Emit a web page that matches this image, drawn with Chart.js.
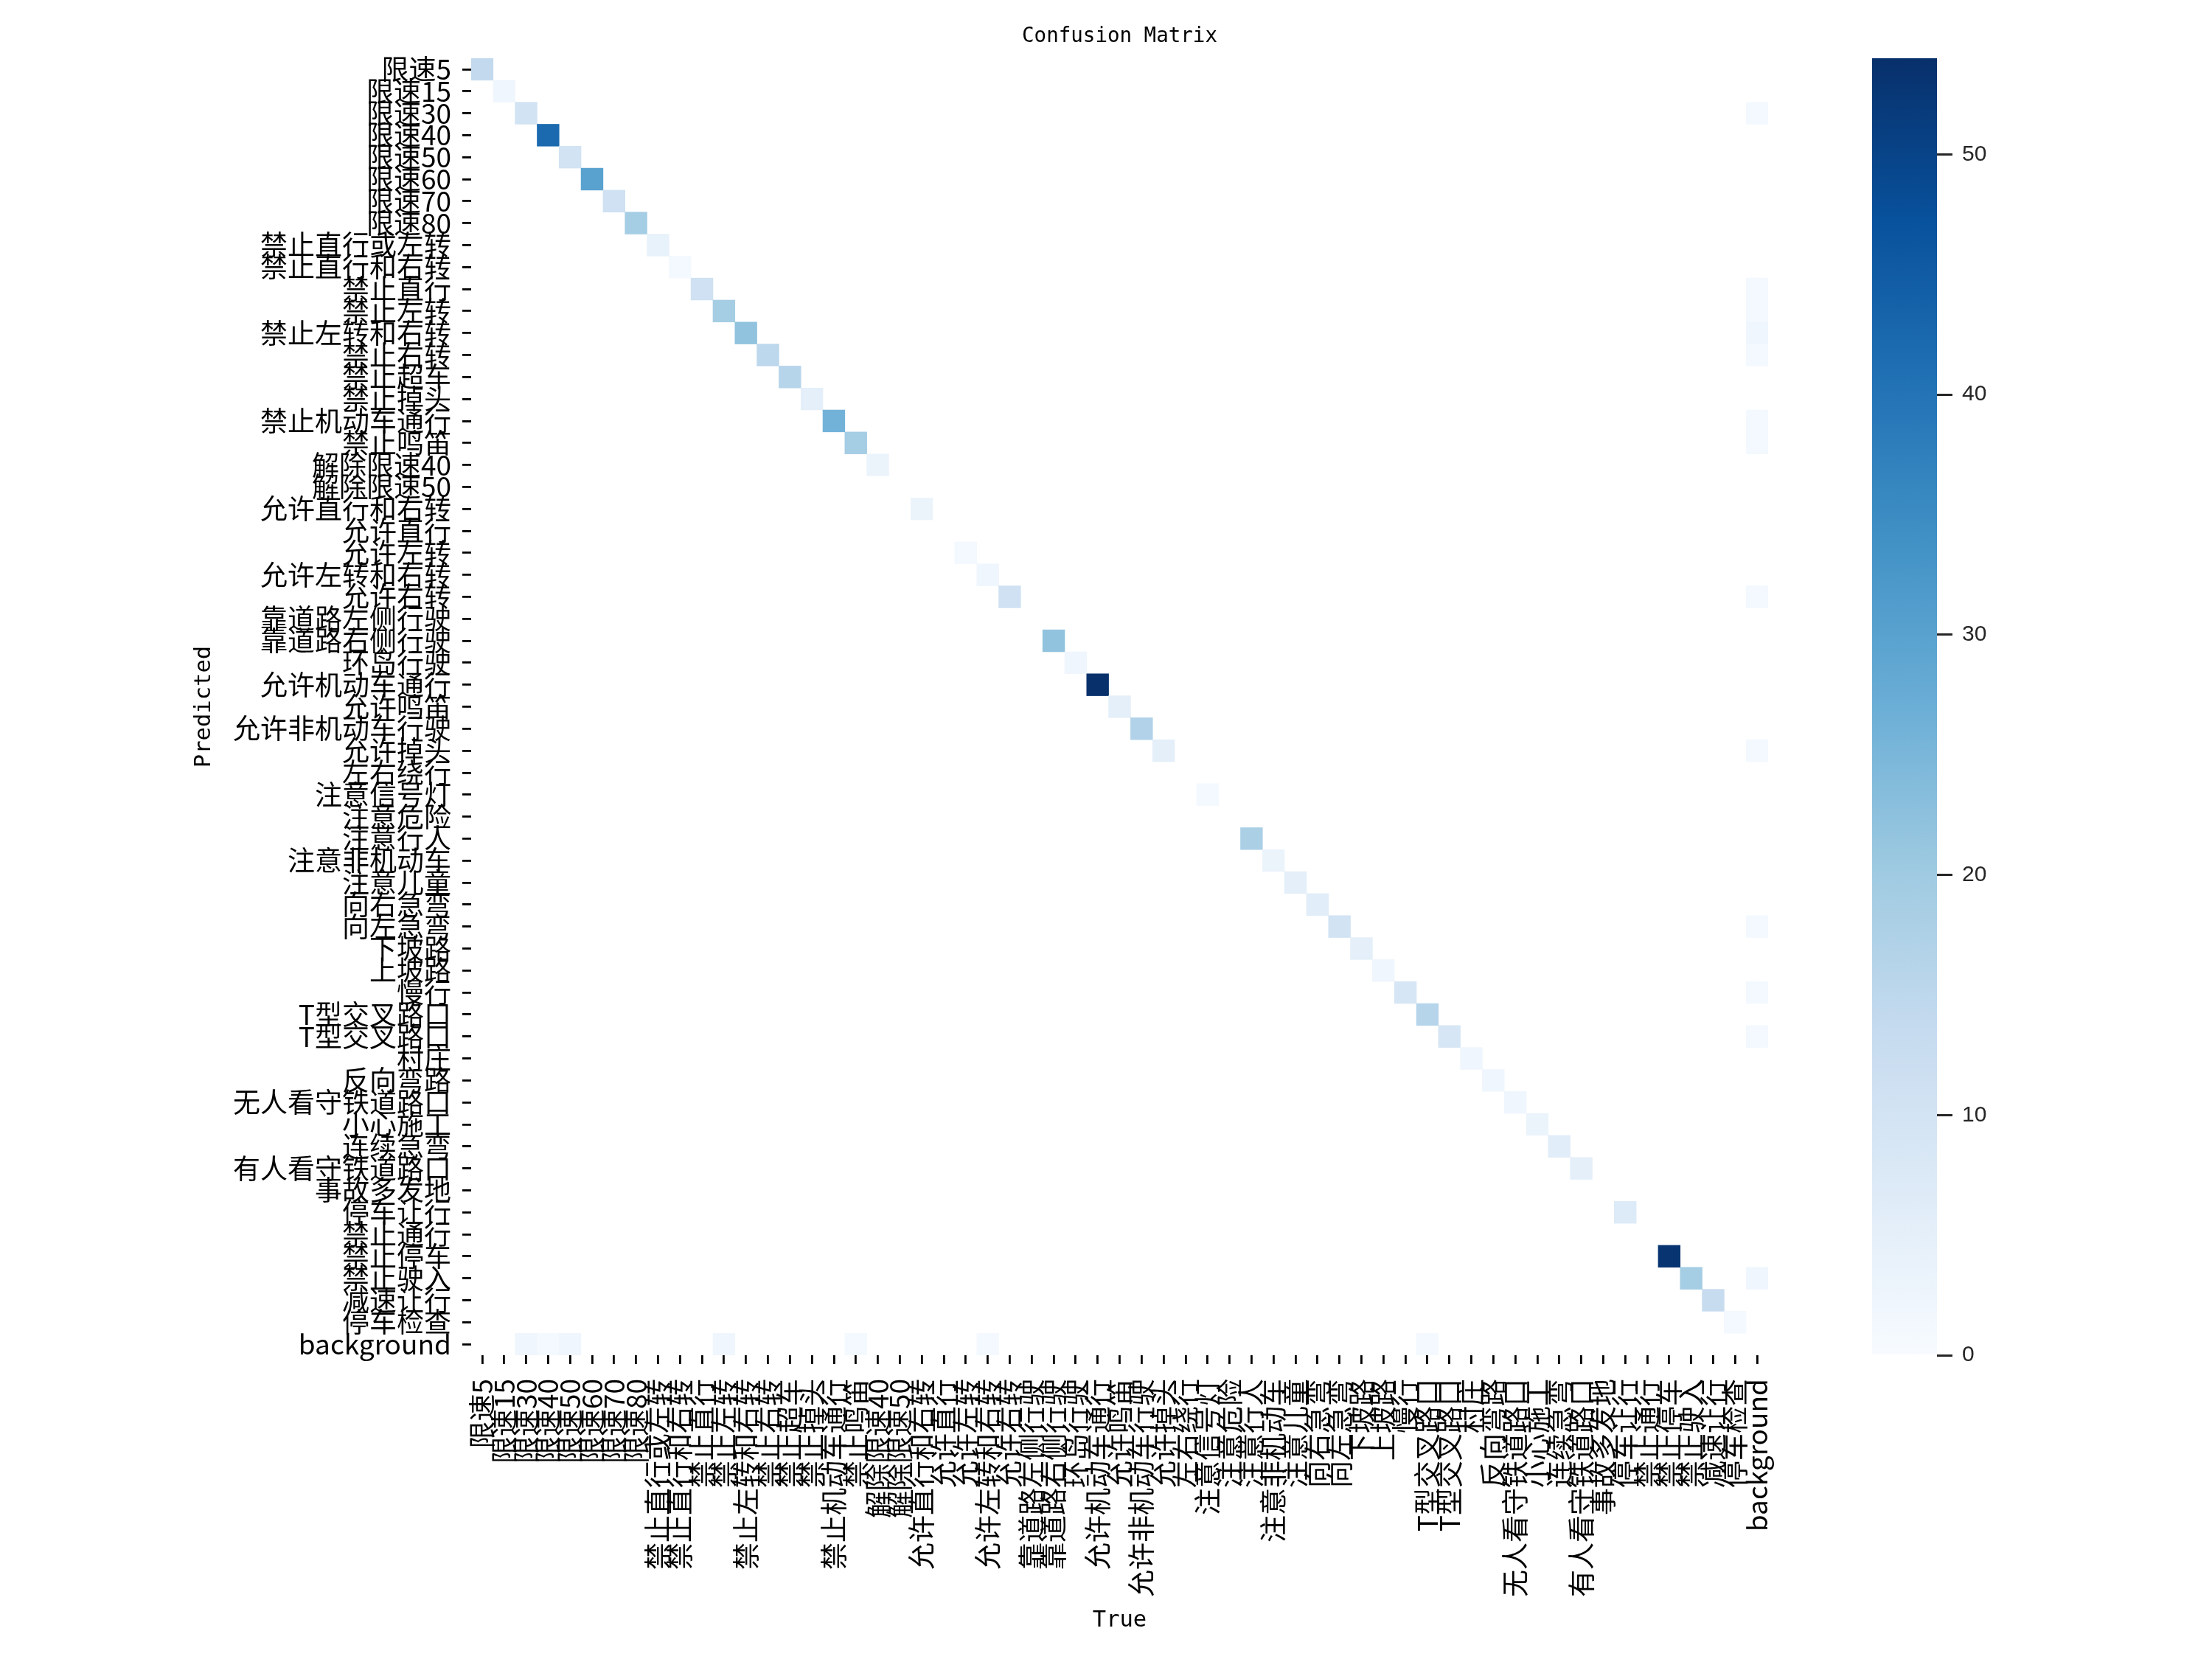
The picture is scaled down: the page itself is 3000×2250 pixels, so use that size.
<!DOCTYPE html>
<html>
<head>
<meta charset="utf-8">
<script src="https://cdn.jsdelivr.net/npm/chart.js@4.4.1/dist/chart.umd.min.js"></script>
<style>
  html, body { margin: 0; padding: 0; background: #ffffff; }
  #wrap { position: relative; width: 3000px; height: 2250px; }
  #cm { position: absolute; left: 0; top: 0; }
  #cbar { position: absolute; left: 2500px; top: 0; }
</style>
</head>
<body>
<div id="wrap">
  <canvas id="cm" width="2500" height="2250" style="width:2500px;height:2250px"></canvas>
  <canvas id="cbar" width="400" height="2250" style="width:400px;height:2250px"></canvas>
</div>
<script>
// class names (same order on both axes)
const classNames = [
  "限速5", "限速15", "限速30", "限速40", "限速50", "限速60", "限速70", "限速80",
  "禁止直行或左转", "禁止直行和右转", "禁止直行", "禁止左转", "禁止左转和右转", "禁止右转",
  "禁止超车", "禁止掉头", "禁止机动车通行", "禁止鸣笛", "解除限速40", "解除限速50",
  "允许直行和右转", "允许直行", "允许左转", "允许左转和右转", "允许右转",
  "靠道路左侧行驶", "靠道路右侧行驶", "环岛行驶", "允许机动车通行", "允许鸣笛",
  "允许非机动车行驶", "允许掉头", "左右绕行", "注意信号灯", "注意危险", "注意行人",
  "注意非机动车", "注意儿童", "向右急弯", "向左急弯", "下坡路", "上坡路", "慢行",
  "T型交叉路口", "T型交叉路口", "村庄", "反向弯路", "无人看守铁道路口", "小心施工",
  "连续急弯", "有人看守铁道路口", "事故多发地", "停车让行", "禁止通行", "禁止停车",
  "禁止驶入", "减速让行", "停车检查", "background"
];

// correct predictions (predicted == true), one per class
const diagonal = [
  14, 2, 10, 42, 10, 30, 11, 19, 4, 1,
  11, 19, 22, 15, 16, 5, 26, 19, 3, 0,
  3, 0, 1, 2, 11, 0, 22, 2, 54, 5,
  17, 5, 0, 1, 0, 18, 3, 5, 6, 10,
  5, 2, 9, 16, 9, 2, 2, 2, 3, 6,
  5, 0, 7, 0, 53, 19, 13, 1, 0
];

// true = background, indexed by predicted class (false positives)
const backgroundColumn = [
  0, 0, 1, 0, 0, 0, 0, 0, 0, 0,
  1, 1, 2, 1, 0, 0, 1, 1, 0, 0,
  0, 0, 0, 0, 1, 0, 0, 0, 0, 0,
  0, 1, 0, 0, 0, 0, 0, 0, 0, 1,
  0, 0, 1, 0, 1, 0, 0, 0, 0, 0,
  0, 0, 0, 0, 0, 2, 0, 0, 0
];

// predicted = background, indexed by true class (missed objects)
const backgroundRow = [
  0, 0, 2, 1, 2, 0, 0, 0, 0, 0,
  0, 2, 0, 0, 0, 0, 0, 1, 0, 0,
  0, 0, 0, 1, 0, 0, 0, 0, 0, 0,
  0, 0, 0, 0, 0, 0, 0, 0, 0, 0,
  0, 0, 0, 1, 0, 0, 0, 0, 0, 0,
  0, 0, 0, 0, 0, 0, 0, 0, 0
];

const colorbarTicks = [0, 10, 20, 30, 40, 50];

// matplotlib "Blues"
const bluesStops = ["#f7fbff", "#deebf7", "#c6dbef", "#9ecae1", "#6baed6", "#4292c6", "#2171b5", "#08519c", "#08306b"];

function hexRgb(h){
  return [parseInt(h.slice(1,3),16), parseInt(h.slice(3,5),16), parseInt(h.slice(5,7),16)];
}
function blues(t){
  t = Math.max(0, Math.min(1, t));
  const pos = t * (bluesStops.length - 1);
  const i = Math.min(Math.floor(pos), bluesStops.length - 2);
  const f = pos - i;
  const a = hexRgb(bluesStops[i]), b = hexRgb(bluesStops[i+1]);
  const c = a.map((v, k) => Math.round(v + (b[k] - v) * f));
  return `rgb(${c[0]},${c[1]},${c[2]})`;
}

const last = classNames.length - 1;
const cells = [];
diagonal.forEach((v, i) => { if (v > 0) cells.push({x: i, y: i, v}); });
backgroundColumn.forEach((v, i) => { if (v > 0) cells.push({x: last, y: i, v}); });
backgroundRow.forEach((v, j) => { if (v > 0) cells.push({x: j, y: last, v}); });
const vmax = Math.max(...cells.map(c => c.v));

const cjkFont = {family: "'Noto Sans CJK SC', 'Noto Sans', sans-serif", size: 37};
const monoFont = "'DejaVu Sans Mono', 'Liberation Mono', monospace";

const cellSide = chart => {
  const xs = chart.scales.x;
  return Math.abs(xs.getPixelForValue(1) - xs.getPixelForValue(0));
};
// one tick per class, at the cell centres
const classTicks = s => { s.ticks = classNames.map((_, i) => ({value: i})); };

new Chart(document.getElementById('cm'), {
  type: 'scatter',
  data: {
    datasets: [{
      data: cells,
      pointStyle: 'rect',
      pointRadius: ctx => (cellSide(ctx.chart) + 0.6) / Math.SQRT2,
      pointHoverRadius: ctx => (cellSide(ctx.chart) + 0.6) / Math.SQRT2,
      pointBorderWidth: 0,
      pointBackgroundColor: ctx => blues(ctx.raw.v / vmax),
      pointHoverBackgroundColor: ctx => blues(ctx.raw.v / vmax)
    }]
  },
  options: {
    responsive: false,
    devicePixelRatio: 1,
    animation: false,
    events: [],
    layout: { padding: {left: 240, top: 0, right: 102, bottom: 20} },
    plugins: {
      legend: { display: false },
      tooltip: { enabled: false },
      title: {
        display: true,
        fullSize: false,
        text: 'Confusion Matrix',
        color: '#000',
        font: {family: monoFont, size: 27.5, weight: 'normal'},
        padding: {top: 33, bottom: 13}
      }
    },
    scales: {
      x: {
        type: 'linear',
        min: -0.5,
        max: last + 0.5,
        afterBuildTicks: classTicks,
        afterFit: s => { s.height = 392; },
        border: { display: false },
        grid: { drawOnChartArea: false, drawTicks: true, tickLength: 12, color: '#000', lineWidth: 2.8 },
        ticks: {
          autoSkip: false,
          maxRotation: 90,
          minRotation: 90,
          padding: 20,
          color: '#000',
          font: cjkFont,
          callback: v => classNames[v]
        },
        title: {
          display: true, text: 'True', color: '#000',
          font: {family: monoFont, size: 30.5},
          padding: {top: 4, bottom: 14}
        }
      },
      y: {
        type: 'linear',
        reverse: true,
        min: -0.5,
        max: last + 0.5,
        afterBuildTicks: classTicks,
        afterFit: s => { s.width = 399; },
        border: { display: false },
        grid: { drawOnChartArea: false, drawTicks: true, tickLength: 12, color: '#000', lineWidth: 2.8 },
        ticks: {
          autoSkip: false,
          padding: 15,
          color: '#000',
          font: cjkFont,
          callback: v => classNames[v]
        },
        title: {
          display: true, text: 'Predicted', color: '#000',
          font: {family: monoFont, size: 30.5},
          padding: {top: 19, bottom: 4}
        }
      }
    }
  }
});

// colour bar
new Chart(document.getElementById('cbar'), {
  type: 'bar',
  data: {
    labels: [''],
    datasets: [{
      data: [[0, vmax]],
      barPercentage: 1,
      categoryPercentage: 1,
      borderWidth: 0,
      backgroundColor: ctx => {
        const chart = ctx.chart;
        if (!chart.chartArea) return bluesStops[0];
        const ys = chart.scales.y;
        const g = chart.ctx.createLinearGradient(0, ys.getPixelForValue(0), 0, ys.getPixelForValue(vmax));
        bluesStops.forEach((c, i) => g.addColorStop(i / (bluesStops.length - 1), c));
        return g;
      }
    }]
  },
  options: {
    responsive: false,
    devicePixelRatio: 1,
    animation: false,
    events: [],
    layout: { padding: {left: 39, top: 79, right: 0, bottom: 412} },
    plugins: { legend: { display: false }, tooltip: { enabled: false } },
    scales: {
      x: { display: false },
      y: {
        position: 'right',
        min: 0,
        max: vmax,
        afterFit: s => { s.width = 273; },
        afterBuildTicks: s => { s.ticks = colorbarTicks.map(v => ({value: v})); },
        border: { display: false },
        grid: { drawOnChartArea: false, drawTicks: true, tickLength: 21, color: '#262626', lineWidth: 3 },
        ticks: {
          padding: 13,
          color: '#262626',
          font: {family: "'Liberation Sans', Arial, sans-serif", size: 30}
        }
      }
    }
  }
});
</script>
</body>
</html>
